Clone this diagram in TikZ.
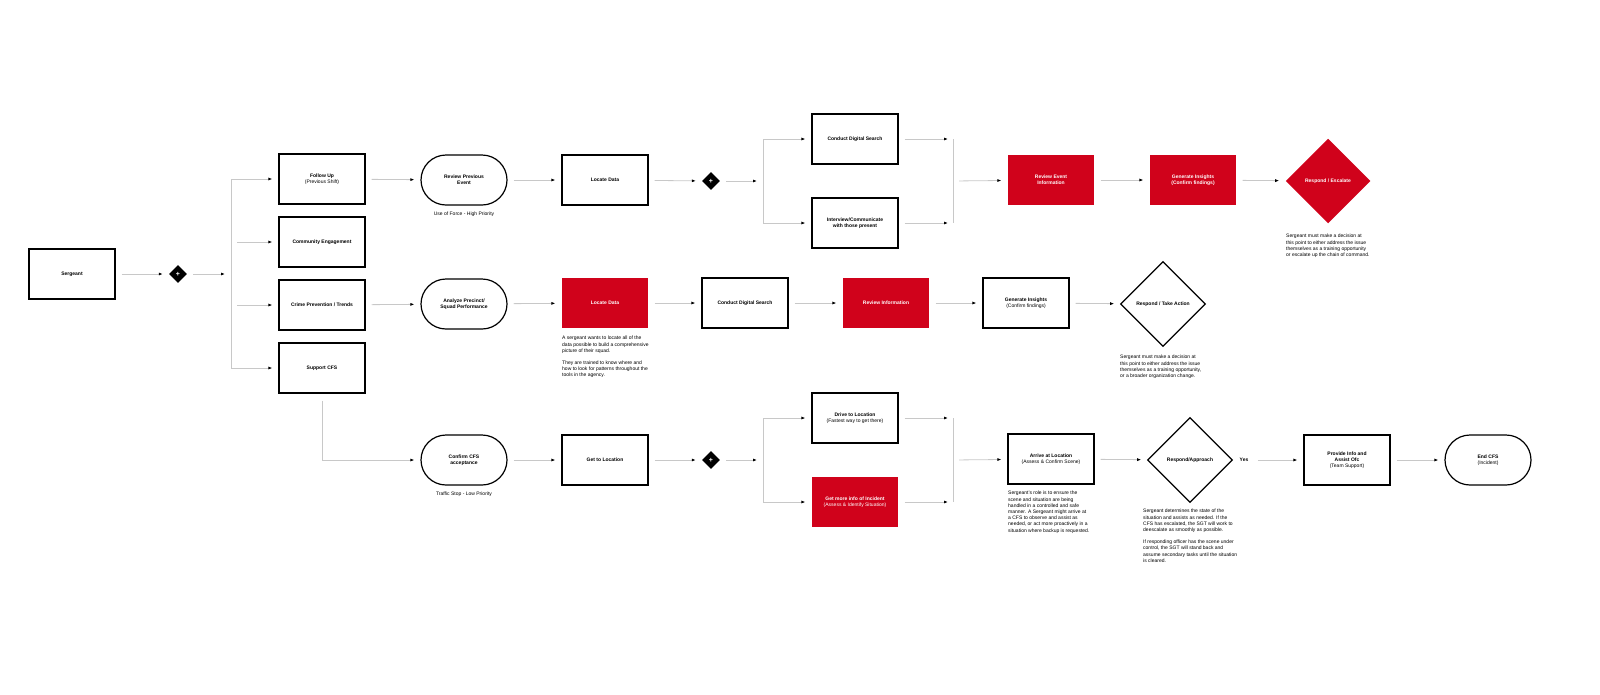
\documentclass[tikz,border=0pt]{standalone}
\usepackage{fontspec}
\setmainfont{Liberation Sans}
\usetikzlibrary{arrows.meta,shapes.geometric}
\definecolor{sgred}{HTML}{D0021B}
\definecolor{sggray}{HTML}{C8C8C8}
\tikzset{
    box/.style={draw, line width=1.2pt, minimum width=86pt, minimum height=50pt, align=center, font=\fontsize{5}{6.2}\selectfont},
    redbox/.style={box, draw=none, fill=sgred, text=white},
    term/.style={box, rounded corners=25pt},
    gate/.style={diamond, fill=black, text=white, inner sep=0pt, minimum size=18pt, font=\bfseries\fontsize{7}{7}\selectfont},
    choice/.style={diamond, draw, line width=1.2pt, minimum size=85pt, inner sep=0pt, align=center, font=\bfseries\fontsize{5}{6.2}\selectfont},
    flow/.style={draw=sggray, line width=0.8pt, -{Latex[black,length=4pt,width=3pt]}, shorten >=6pt, shorten <=6pt},
    rail/.style={draw=sggray, line width=0.8pt},
    note/.style={anchor=north west, align=left, font=\fontsize{5}{6.2}\selectfont, inner sep=0pt},
}
\newcommand{\hd}[1]{\textbf{#1}}
\begin{document}
\begin{tikzpicture}[x=1pt, y=-1pt]
    \useasboundingbox (0,0) rectangle (1600,694);

    % start and first split
    \node[box] (serg) at (72,274) {\hd{Sergeant}};
    \node[gate] (g1) at (178,274) {+};
    \coordinate (b1) at (231,274);

    \node[box] (follow) at (322,179) {\hd{Follow Up}\\(Previous Shift)};
    \node[box] (comm) at (322,242) {\hd{Community Engagement}};
    \node[box] (crime) at (322,305) {\hd{Crime Prevention / Trends}};
    \node[box] (cfs) at (322,368) {\hd{Support CFS}};

    \draw[flow] (serg) -- (g1);
    \draw[flow] (g1) -- (b1);
    \draw[rail] (231,179) -- (231,368);
    \draw[flow, shorten <=0pt] (231,179) -- (follow);
    \draw[flow] (231,242) -- (comm);
    \draw[flow] (231,305) -- (crime);
    \draw[flow, shorten <=0pt] (231,368) -- (cfs);

    % row 1 : follow up
    \node[term] (review) at (464,180) {\hd{Review Previous}\\\hd{Event}};
    \node[font=\fontsize{5}{6}\selectfont] (prio1) at (464,214) {Use of Force - High Priority};
    \node[box] (loc1) at (605,180) {\hd{Locate Data}};
    \node[gate] (g2) at (711,181) {+};
    \coordinate (b2) at (763,181);
    \node[box] (dig1) at (855,139) {\hd{Conduct Digital Search}};
    \node[box] (inter) at (855,223) {\hd{Interview/Communicate}\\\hd{with those present}};
    \coordinate (m2) at (953,181);
    \node[redbox] (revev) at (1051,180) {\hd{Review Event}\\\hd{Information}};
    \node[redbox] (gen1) at (1193,180) {\hd{Generate Insights}\\\hd{(Confirm findings)}};
    \node[choice, draw=none, fill=sgred, text=white] (esc) at (1328,181) {Respond / Escalate};
    \node[note] (n1) at (1286,234) {Sergeant must make a decision at\\this point to either address the issue\\themselves as a training opportunity\\or escalate up the chain of command.};

    \draw[flow] (follow) -- (review);
    \draw[flow] (review) -- (loc1);
    \draw[flow] (loc1) -- (g2);
    \draw[flow] (g2) -- (b2);
    \draw[rail] (763,139) -- (763,223);
    \draw[flow, shorten <=0pt] (763,139) -- (dig1);
    \draw[flow, shorten <=0pt] (763,223) -- (inter);
    \draw[rail] (953,139) -- (953,223);
    \draw[flow, shorten >=5pt] (dig1) -- (953,139);
    \draw[flow, shorten >=5pt] (inter) -- (953,223);
    \draw[flow] (m2) -- (revev);
    \draw[flow] (revev) -- (gen1);
    \draw[flow] (gen1) -- (esc);

    % row 2 : crime prevention
    \node[term] (analyze) at (464,304) {\hd{Analyze Precinct/}\\\hd{Squad Performance}};
    \node[redbox] (loc2) at (605,303) {\hd{Locate Data}};
    \node[note] (n2) at (562,336) {A sergeant wants to locate all of the\\data possible to build a comprehensive\\picture of their squad.\\[6pt]They are trained to know where and\\how to look for patterns throughout the\\tools in the agency.};
    \node[box] (dig2) at (745,303) {\hd{Conduct Digital Search}};
    \node[redbox] (revinf) at (886,303) {\hd{Review Information}};
    \node[box] (gen2) at (1026,303) {\hd{Generate Insights}\\(Confirm findings)};
    \node[choice] (act) at (1163,304) {Respond / Take Action};
    \node[note] (n3) at (1120,355) {Sergeant must make a decision at\\this point to either address the issue\\themselves as a training opportunity,\\or a broader organization change.};

    \draw[flow] (crime) -- (analyze);
    \draw[flow] (analyze) -- (loc2);
    \draw[flow] (loc2) -- (dig2);
    \draw[flow] (dig2) -- (revinf);
    \draw[flow] (revinf) -- (gen2);
    \draw[flow] (gen2) -- (act);

    % row 3 : support cfs
    \node[term] (confirm) at (464,460) {\hd{Confirm CFS}\\\hd{acceptance}};
    \node[font=\fontsize{5}{6}\selectfont] (prio3) at (464,494) {Traffic Stop - Low Priority};
    \node[box] (getloc) at (605,460) {\hd{Get to Location}};
    \node[gate] (g3) at (711,460) {+};
    \coordinate (b3) at (763,460);
    \node[box] (drive) at (855,418) {\hd{Drive to Location}\\(Fastest way to get there)};
    \node[redbox] (info) at (855,502) {\hd{Get more info of Incident}\\(Assess \& Identify Situation)};
    \coordinate (m3) at (953,460);
    \node[box] (arrive) at (1051,459) {\hd{Arrive at Location}\\(Assess \& Confirm Scene)};
    \node[note] (n4) at (1008,491) {Sergeant's role is to ensure the\\scene and situation are being\\handled in a controlled and safe\\manner. A Sergeant might arrive at\\a CFS to observe and assist as\\needed, or act more proactively in a\\situation where backup is requested.};
    \node[choice] (appr) at (1190,460) {Respond/Approach};
    \node[font=\bfseries\fontsize{5}{6}\selectfont] (yes) at (1244,460) {Yes};
    \node[note] (n5) at (1143,509) {Sergeant determines the state of the\\situation and assists as needed. If the\\CFS has escalated, the SGT will work to\\deescalate as smoothly as possible.\\[6pt]If responding officer has the scene under\\control, the SGT will stand back and\\assume secondary tasks until the situation\\is cleared.};
    \node[box] (assist) at (1347,460) {\hd{Provide Info and}\\\hd{Assist Ofc}\\(Team Support)};
    \node[term] (endcfs) at (1488,460) {\hd{End CFS}\\(Incident)};

    \draw[flow, shorten <=0pt] (cfs.south) ++(0,7) |- (confirm);
    \draw[flow] (confirm) -- (getloc);
    \draw[flow] (getloc) -- (g3);
    \draw[flow] (g3) -- (b3);
    \draw[rail] (763,418) -- (763,502);
    \draw[flow, shorten <=0pt] (763,418) -- (drive);
    \draw[flow, shorten <=0pt] (763,502) -- (info);
    \draw[rail] (953,418) -- (953,502);
    \draw[flow, shorten >=5pt] (drive) -- (953,418);
    \draw[flow, shorten >=5pt] (info) -- (953,502);
    \draw[flow] (m3) -- (arrive);
    \draw[flow] (arrive) -- (appr);
    \draw[flow] (yes) -- (assist);
    \draw[flow] (assist) -- (endcfs);
\end{tikzpicture}
\end{document}
